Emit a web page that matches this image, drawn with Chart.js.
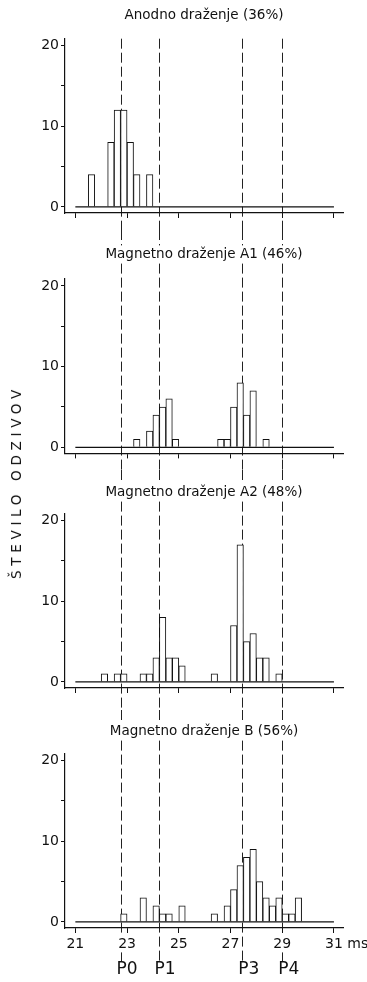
<!DOCTYPE html>
<html>
<head>
  <meta charset="utf-8">
  <title>Število odzivov</title>
  <script src="https://cdn.jsdelivr.net/npm/chart.js"></script>
  <style>
    body { margin: 0; background: #fff; }
    #wrap { position: relative; width: 367px; height: 982px; overflow: hidden; }
    #wrap canvas { position: absolute; left: 0; }
    #ytitle {
      position: absolute; left: 16px; top: 482px;
      transform: translate(-50%, -50%) rotate(-90deg);
      font: 13.5px 'DejaVu Sans', sans-serif; letter-spacing: 4.7px;
      white-space: nowrap; color: #111;
    }
  </style>
</head>
<body>
<div id="wrap">
  <canvas id="c1" width="367" height="230"></canvas>
  <canvas id="c2" width="367" height="240"></canvas>
  <canvas id="c3" width="367" height="240"></canvas>
  <canvas id="c4" width="367" height="272"></canvas>
  <div id="ytitle">ŠTEVILO ODZIVOV</div>
</div>

<script>
  // histogram bins: 0.25 ms wide, first bin starts at 21 ms (40 bins up to 31 ms)
  const binStart = 21;
  const binWidth = 0.25;

  const anodno   = [0,0,4,0,0,8,12,12,8,4, 0,4,0,0,0,0,0,0,0,0, 0,0,0,0,0,0,0,0,0,0, 0,0,0,0,0,0,0,0,0,0];
  const magnetA1 = [0,0,0,0,0,0,0,0,0,1, 0,2,4,5,6,1,0,0,0,0, 0,0,1,1,5,8,4,7,0,1, 0,0,0,0,0,0,0,0,0,0];
  const magnetA2 = [0,0,0,0,1,0,1,1,0,0, 1,1,3,8,3,3,2,0,0,0, 0,1,0,0,7,17,5,6,3,3, 0,1,0,0,0,0,0,0,0,0];
  const magnetB  = [0,0,0,0,0,0,0,1,0,0, 3,0,2,1,1,0,2,0,0,0, 0,1,0,2,4,7,8,9,5,3, 2,3,1,1,3,0,0,0,0,0];

  const panelTitles = ['Anodno draženje (36%)', 'Magnetno draženje A1 (46%)',
                       'Magnetno draženje A2 (48%)', 'Magnetno draženje B (56%)'];

  const peakNames = ['P0', 'P1', 'P3', 'P4'];
  const peakTimes = [22.75, 24.22, 27.45, 29.0];

  const xTickValues = [21, 23, 25, 27, 29, 31];
  const xUnit = 'ms';
  const yTickValues = [0, 5, 10, 15, 20];
  const yTickLabels = ['0', '', '10', '', '20'];

  const FONT = "'DejaVu Sans', 'Liberation Sans', Arial, sans-serif";
  Chart.defaults.font.family = FONT;
  Chart.defaults.color = '#111';

  // where each panel sits on the page
  const panels = [
    { id: 'c1', counts: anodno,   title: panelTitles[0], top: 0,   padTop: 7.7,  padBottom: 14.8, axisH: 17,   fromArea: true },
    { id: 'c2', counts: magnetA1, title: panelTitles[1], top: 230, padTop: 16.4, padBottom: 16.4, axisH: 16.6 },
    { id: 'c3', counts: magnetA2, title: panelTitles[2], top: 470, padTop: 14.4, padBottom: 13.1, axisH: 22 },
    { id: 'c4', counts: magnetB,  title: panelTitles[3], top: 710, padTop: 13.4, padBottom: 14.1, axisH: 54,
      labels: true, lineEnd: 252, peakLabelY: 260 }
  ];

  const TITLE_SIZE = 13.5;
  const TICK_SIZE = 14;

  // dashed peak lines running through all panels, plus the P labels and "ms"
  const peakPlugin = {
    id: 'peaks',
    beforeDraw(chart, args, opts) {
      const { ctx, chartArea } = chart;
      const x = chart.scales.x;
      const gaps = [];

      // keep the lines out of the title text
      ctx.save();
      ctx.font = TITLE_SIZE + 'px ' + FONT;
      const tw = ctx.measureText(opts.titleText).width;
      const cx = (chartArea.left + chartArea.right) / 2;
      gaps.push({ x0: cx - tw / 2 - 3, x1: cx + tw / 2 + 3,
                  y0: opts.padTop - 1, y1: opts.padTop + TITLE_SIZE * 1.2 + 1 });

      // ...and out of the tick labels on the bottom panel
      if (opts.labels) {
        ctx.font = TICK_SIZE + 'px ' + FONT;
        const yc = x.top + 5 + 3 + TICK_SIZE * 0.6;
        xTickValues.forEach(v => {
          const w = ctx.measureText(String(v)).width;
          const px = x.getPixelForValue(v);
          gaps.push({ x0: px - w / 2 - 2, x1: px + w / 2 + 2, y0: yc - 8, y1: yc + 8 });
        });
      }

      const yA = opts.fromArea ? chartArea.top : 0;
      const yB = opts.lineEnd != null ? opts.lineEnd : chart.height;
      ctx.strokeStyle = '#222';
      ctx.lineWidth = 1;
      ctx.setLineDash([10, 4]);
      peakTimes.forEach(t => {
        const px = Math.round(x.getPixelForValue(t)) + 0.5;
        let segs = [[yA, yB]];
        gaps.filter(g => px > g.x0 && px < g.x1).forEach(g => {
          segs = segs.flatMap(([a, b]) => {
            const out = [];
            if (g.y0 > a) out.push([a, Math.min(b, g.y0)]);
            if (g.y1 < b) out.push([Math.max(a, g.y1), b]);
            return out;
          });
        });
        segs.forEach(([a, b]) => {
          if (b <= a) return;
          ctx.beginPath();
          ctx.moveTo(px, a);
          ctx.lineTo(px, b);
          ctx.stroke();
        });
      });
      ctx.restore();
    },
    afterDraw(chart, args, opts) {
      if (!opts.labels) return;
      const { ctx } = chart;
      const x = chart.scales.x;
      ctx.save();
      ctx.fillStyle = '#111';
      ctx.textBaseline = 'middle';
      ctx.textAlign = 'left';

      // unit after the last tick label
      ctx.font = TICK_SIZE + 'px ' + FONT;
      const last = xTickValues[xTickValues.length - 1];
      const lw = ctx.measureText(String(last)).width;
      const sp = ctx.measureText(' ').width;
      const yc = x.top + 5 + 3 + TICK_SIZE * 0.6;
      ctx.fillText(xUnit, x.getPixelForValue(last) + lw / 2 + sp, yc);

      // peak names under the dashed lines
      ctx.font = '17px ' + FONT;
      peakTimes.forEach((t, i) => {
        ctx.fillText(peakNames[i], x.getPixelForValue(t) - 4, opts.peakLabelY);
      });
      ctx.restore();
    }
  };

  panels.forEach(p => {
    const canvas = document.getElementById(p.id);
    canvas.style.top = p.top + 'px';

    new Chart(canvas, {
      type: 'bar',
      data: {
        datasets: [
          {
            type: 'line',
            data: [{ x: xTickValues[0], y: 0 }, { x: xTickValues[xTickValues.length - 1], y: 0 }],
            borderColor: '#111',
            borderWidth: 1.2,
            pointRadius: 0,
            order: 0
          },
          {
            type: 'bar',
            data: p.counts.map((n, i) => ({ x: binStart + (i + 0.5) * binWidth, y: n || null })),
            backgroundColor: '#fff',
            borderColor: '#111',
            borderWidth: 1,
            barPercentage: 1,
            categoryPercentage: 1,
            order: 1
          }
        ]
      },
      options: {
        responsive: false,
        animation: false,
        layout: { padding: { left: 0, right: 24, top: 0, bottom: 0 } },
        plugins: {
          legend: { display: false },
          tooltip: { enabled: false },
          title: {
            display: true,
            fullSize: false,
            text: p.title,
            color: '#111',
            font: { size: TITLE_SIZE, weight: 'normal' },
            padding: { top: p.padTop, bottom: p.padBottom }
          },
          peaks: {
            titleText: p.title,
            padTop: p.padTop,
            fromArea: !!p.fromArea,
            labels: !!p.labels,
            lineEnd: p.lineEnd,
            peakLabelY: p.peakLabelY
          }
        },
        scales: {
          x: {
            type: 'linear',
            min: 20.6,
            max: 31.35,
            bounds: 'data',
            offset: false,
            afterBuildTicks: s => { s.ticks = xTickValues.map(v => ({ value: v })); },
            afterFit: s => { s.height = p.axisH; },
            grid: { offset: false, drawOnChartArea: false, drawTicks: true, tickLength: 5, color: '#111' },
            border: { display: true, color: '#111', width: 1.2 },
            ticks: {
              display: !!p.labels,
              autoSkip: false,
              maxRotation: 0,
              padding: 3,
              color: '#111',
              font: { size: TICK_SIZE },
              callback: v => String(v)
            }
          },
          y: {
            type: 'linear',
            min: -0.75,
            max: 20.85,
            bounds: 'data',
            afterBuildTicks: s => { s.ticks = yTickValues.map(v => ({ value: v })); },
            afterFit: s => { s.width = 65; },
            grid: { drawOnChartArea: false, drawTicks: true, tickLength: 4, color: '#111' },
            border: { display: true, color: '#111', width: 1.2 },
            ticks: {
              padding: 2,
              color: '#111',
              font: { size: TICK_SIZE },
              callback: (v, i) => yTickLabels[i]
            }
          }
        }
      },
      plugins: [peakPlugin]
    });
  });
</script>
</body>
</html>
